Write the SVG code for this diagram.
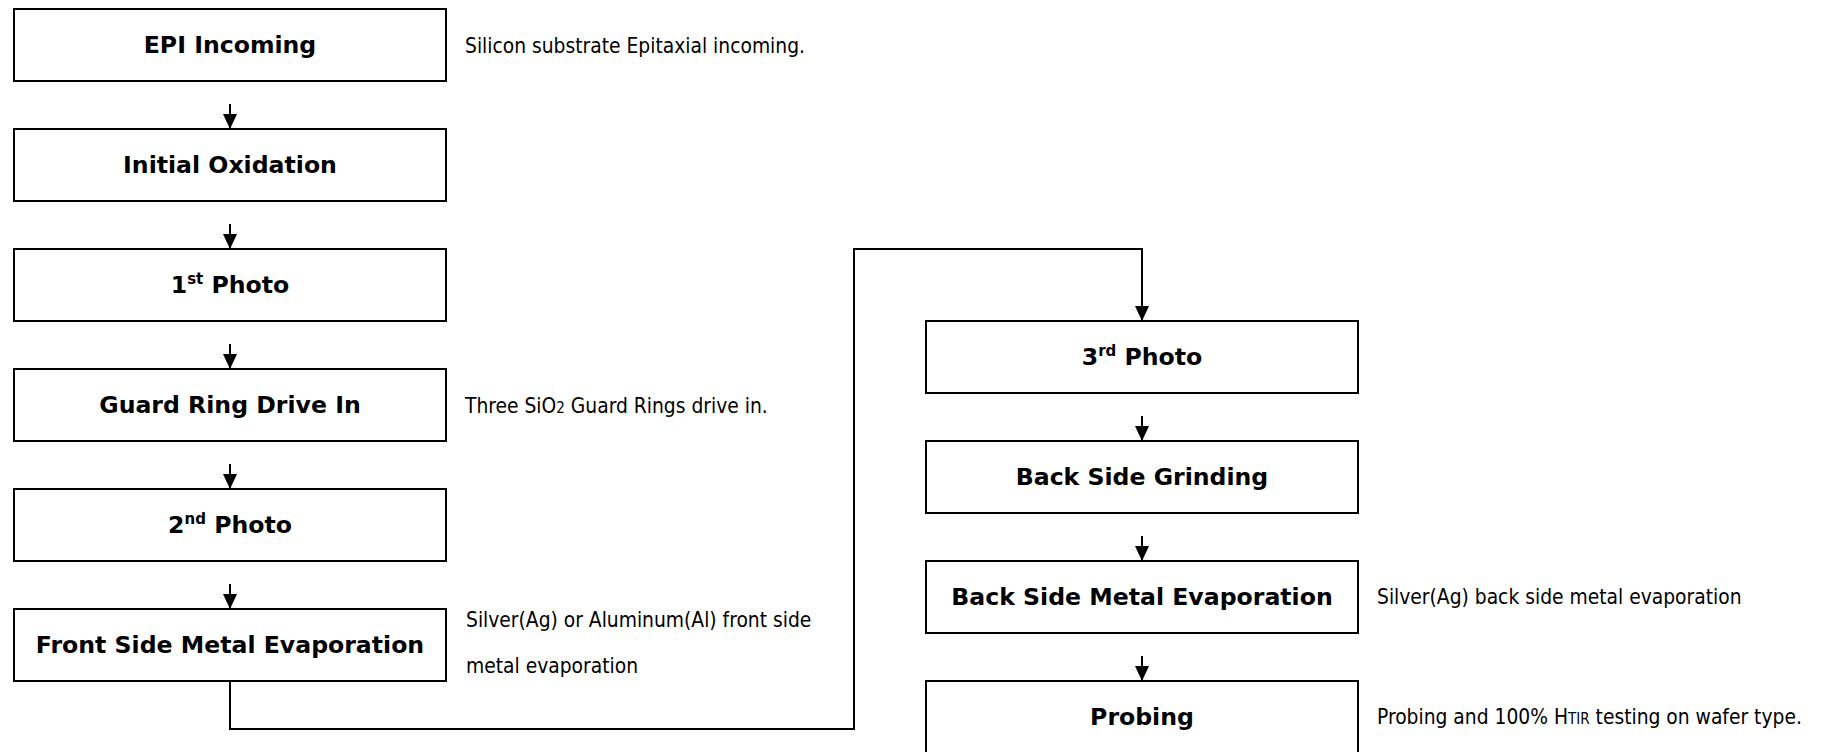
<svg xmlns="http://www.w3.org/2000/svg" width="1831" height="752" viewBox="0 0 1831 752">
<style>
.box{fill:#fff;stroke:#000;stroke-width:2}
.lbl{font-family:"DejaVu Sans",Verdana,sans-serif;font-weight:bold;font-size:23.6px;fill:#000;text-anchor:middle}
.sup{font-size:15px}
.note{font-family:"DejaVu Sans Condensed","DejaVu Sans",sans-serif;font-size:20.8px;fill:#000}
.sm{font-size:15px}
.wire{fill:none;stroke:#000;stroke-width:2}
</style>
<defs>
<marker id="ah" markerWidth="14" markerHeight="15" refX="15" refY="7" orient="auto" markerUnits="userSpaceOnUse">
<path d="M0,0 L15,7 L0,14 Z" fill="#000"/>
</marker>
</defs>
<rect width="1831" height="752" fill="#fff"/>
<g id="connectors">
<line class="wire" x1="230" y1="104" x2="230" y2="129" marker-end="url(#ah)"/>
<line class="wire" x1="230" y1="224" x2="230" y2="249" marker-end="url(#ah)"/>
<line class="wire" x1="230" y1="344" x2="230" y2="369" marker-end="url(#ah)"/>
<line class="wire" x1="230" y1="464" x2="230" y2="489" marker-end="url(#ah)"/>
<line class="wire" x1="230" y1="584" x2="230" y2="609" marker-end="url(#ah)"/>
<path class="wire" d="M230,681 V729 H854 V249 H1142 V321" marker-end="url(#ah)"/>
<line class="wire" x1="1142" y1="416" x2="1142" y2="441" marker-end="url(#ah)"/>
<line class="wire" x1="1142" y1="536" x2="1142" y2="561" marker-end="url(#ah)"/>
<line class="wire" x1="1142" y1="656" x2="1142" y2="681" marker-end="url(#ah)"/>
</g>
<g id="n1"><rect class="box" x="14" y="9" width="432" height="72"/><text class="lbl" x="230" y="53">EPI Incoming</text></g>
<g id="n2"><rect class="box" x="14" y="129" width="432" height="72"/><text class="lbl" x="230" y="173">Initial Oxidation</text></g>
<g id="n3"><rect class="box" x="14" y="249" width="432" height="72"/><text class="lbl" x="230" y="293">1<tspan class="sup" dy="-9">st</tspan><tspan dy="9"> Photo</tspan></text></g>
<g id="n4"><rect class="box" x="14" y="369" width="432" height="72"/><text class="lbl" x="230" y="413">Guard Ring Drive In</text></g>
<g id="n5"><rect class="box" x="14" y="489" width="432" height="72"/><text class="lbl" x="230" y="533">2<tspan class="sup" dy="-9">nd</tspan><tspan dy="9"> Photo</tspan></text></g>
<g id="n6"><rect class="box" x="14" y="609" width="432" height="72"/><text class="lbl" x="230" y="653">Front Side Metal Evaporation</text></g>
<g id="n7"><rect class="box" x="926" y="321" width="432" height="72"/><text class="lbl" x="1142" y="365">3<tspan class="sup" dy="-9">rd</tspan><tspan dy="9"> Photo</tspan></text></g>
<g id="n8"><rect class="box" x="926" y="441" width="432" height="72"/><text class="lbl" x="1142" y="485">Back Side Grinding</text></g>
<g id="n9"><rect class="box" x="926" y="561" width="432" height="72"/><text class="lbl" x="1142" y="605">Back Side Metal Evaporation</text></g>
<g id="n10"><rect class="box" x="926" y="681" width="432" height="72"/><text class="lbl" x="1142" y="725">Probing</text></g>
<g id="notes">
<text class="note" x="465" y="53">Silicon substrate Epitaxial incoming.</text>
<text class="note" x="465" y="413">Three SiO<tspan class="sm">2</tspan> Guard Rings drive in.</text>
<text class="note" x="466" y="627">Silver(Ag) or Aluminum(Al) front side</text>
<text class="note" x="466" y="673">metal evaporation</text>
<text class="note" x="1377" y="604">Silver(Ag) back side metal evaporation</text>
<text class="note" x="1377" y="724">Probing and 100% H<tspan class="sm">TIR</tspan> testing on wafer type.</text>
</g>
</svg>
